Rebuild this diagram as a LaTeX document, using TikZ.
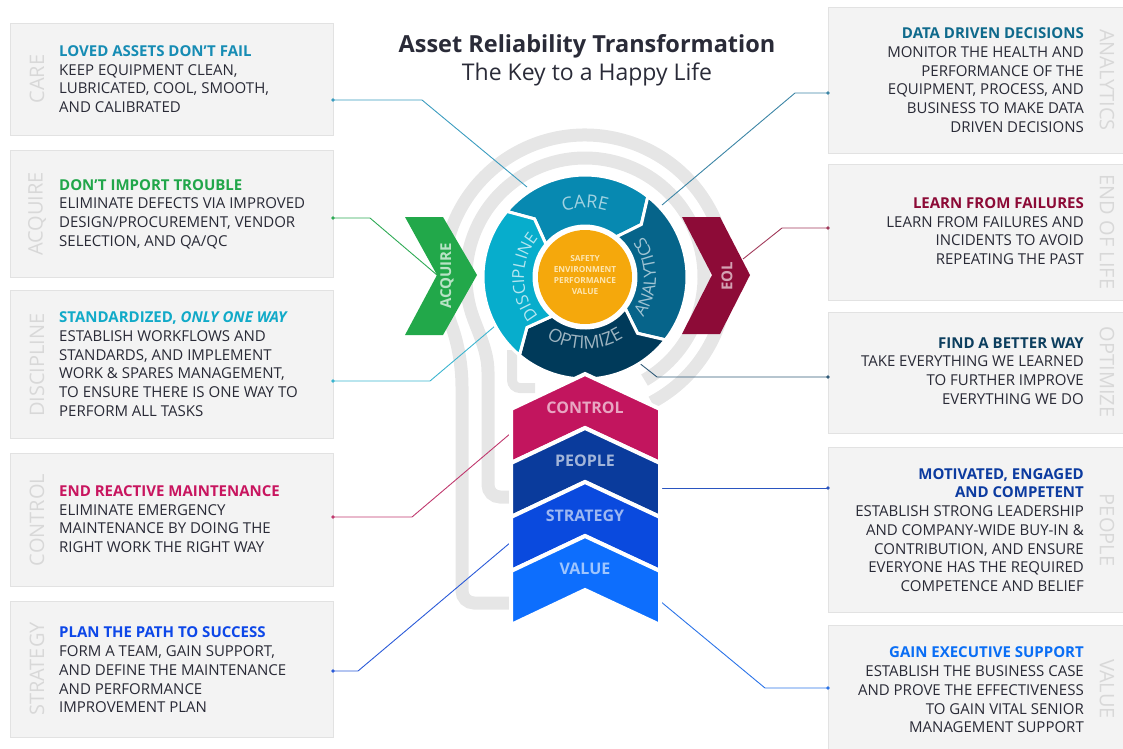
\documentclass[tikz,border=0pt]{standalone}
\usepackage{fontspec}
\setmainfont{Open Sans}
\usetikzlibrary{decorations.text}
\definecolor{bodytxt}{HTML}{292A36}
\definecolor{titletxt}{HTML}{2A2B38}
\definecolor{boxfill}{HTML}{F3F3F3}
\definecolor{boxline}{HTML}{E2E2E2}
\definecolor{vlab}{HTML}{D8D8D8}
\definecolor{ringgray}{HTML}{E6E6E6}
\definecolor{careH}{HTML}{168CB4}
\definecolor{acqH}{HTML}{21A64A}
\definecolor{discH}{HTML}{11AAC8}
\definecolor{ctrlH}{HTML}{C8155F}
\definecolor{stratH}{HTML}{0D47E8}
\definecolor{anaH}{HTML}{0F6A8C}
\definecolor{eolH}{HTML}{8C0A36}
\definecolor{optH}{HTML}{0C3E5E}
\definecolor{peopleH}{HTML}{0C3BA0}
\definecolor{valH}{HTML}{0A6EF5}
\definecolor{careS}{HTML}{0789B1}
\definecolor{anaS}{HTML}{06648A}
\definecolor{optS}{HTML}{003A5A}
\definecolor{discS}{HTML}{07ADCC}
\definecolor{coreC}{HTML}{F5A80C}
\definecolor{coreT}{HTML}{FDE6B0}
\definecolor{acqC}{HTML}{22A84A}
\definecolor{eolC}{HTML}{8D0B37}
\definecolor{ctrlC}{HTML}{C2155E}
\definecolor{peopleC}{HTML}{0A3B9C}
\definecolor{stratC}{HTML}{0A4ADE}
\definecolor{valC}{HTML}{0D6EFD}
\definecolor{careL}{HTML}{3A9CBF}
\definecolor{acqL}{HTML}{2EAA55}
\definecolor{discL}{HTML}{3AB4CF}
\definecolor{ctrlL}{HTML}{C0396E}
\definecolor{stratL}{HTML}{2A5AD8}
\definecolor{anaL}{HTML}{3D86A6}
\definecolor{eolL}{HTML}{A13A5A}
\definecolor{optL}{HTML}{2F5A78}
\definecolor{peopleL}{HTML}{2A55C0}
\definecolor{valL}{HTML}{2A73E8}
\tikzset{
  ring/.style={draw=ringgray, line width=13, line cap=butt},
  infobox/.style={fill=boxfill, draw=boxline, line width=0.8},
  ltext/.style={anchor=west, align=left, inner sep=0, text=bodytxt, font=\fontsize{15}{18.7}\selectfont},
  rtext/.style={anchor=east, align=right, inner sep=0, text=bodytxt, font=\fontsize{15}{18.7}\selectfont},
  vlabel/.style={inner sep=0, text=vlab, font=\fontsize{20}{20}\selectfont},
  conn/.style={line width=0.9},
  seg/.style={draw=white, line width=3, line join=miter},
  chev/.style={draw=white, line width=4, line join=miter},
  chevtxt/.style={inner sep=0, font=\fontsize{16}{16}\selectfont\bfseries},
  sidechev/.style={inner sep=0, font=\fontsize{15}{15}\selectfont\bfseries},
}
\newcommand{\hd}[2]{\textcolor{#1}{\bfseries #2}}
\begin{document}
\begin{tikzpicture}[x=1pt,y=1pt]
\useasboundingbox (0,0) rectangle (1123,-748);

% background bulb rings
\begin{scope}[shift={(585,-277)}]
  \draw[ring] (-62:142) arc[start angle=-62, end angle=200, radius=142]
     .. controls +(6.8,-18.8) and (-123,-90) .. (-123,-110) -- (-123,-314) arc[start angle=180, end angle=270, radius=12] -- (-65,-326);
  \draw[ring] (-60:119) arc[start angle=-60, end angle=200, radius=119]
     .. controls +(5.8,-16) and (-97,-75) .. (-97,-95) -- (-97,-208) arc[start angle=180, end angle=270, radius=12] -- (-65,-220);
  \draw[ring, line width=10] (-73,-73) -- (-73,-103) arc[start angle=180, end angle=270, radius=8] -- (-50,-111);
\end{scope}

% info boxes
\path[infobox] (10,-23) rectangle (333,-135);
\path[infobox] (10,-150) rectangle (333,-277);
\path[infobox] (10,-290) rectangle (333,-438);
\path[infobox] (10,-453) rectangle (333,-586);
\path[infobox] (10,-601) rectangle (333,-737);
\path[infobox] (828,-7) rectangle (1123,-153);
\path[infobox] (828,-164) rectangle (1123,-300);
\path[infobox] (828,-312) rectangle (1123,-433);
\path[infobox] (828,-447) rectangle (1123,-612);
\path[infobox] (828,-625) rectangle (1123,-749);

% connector coordinates
\coordinate (careA) at (333,-100);   \coordinate (careB) at (422,-100);   \coordinate (careZ) at (527,-187);
\coordinate (acqA) at (333,-218);    \coordinate (acqB) at (370,-218);    \coordinate (acqZ) at (437,-275);
\coordinate (discA) at (333,-381);   \coordinate (discB) at (430,-381);   \coordinate (discZ) at (495,-326);
\coordinate (ctrlA) at (333,-517);   \coordinate (ctrlB) at (412,-517);   \coordinate (ctrlZ) at (511,-433);
\coordinate (stratA) at (333,-671);  \coordinate (stratB) at (358,-671);  \coordinate (stratZ) at (511,-542);
\coordinate (anaA) at (828,-93);     \coordinate (anaB) at (795,-93);     \coordinate (anaZ) at (662,-205);
\coordinate (eolA) at (828,-228);    \coordinate (eolB) at (782,-228);    \coordinate (eolZ) at (743,-259);
\coordinate (optA) at (828,-377);    \coordinate (optB) at (657,-377);    \coordinate (optZ) at (638,-362);
\coordinate (peopleA) at (828,-488); \coordinate (peopleZ) at (660,-488);
\coordinate (valA) at (828,-688);    \coordinate (valB) at (765,-688);    \coordinate (valZ) at (660,-601);

\draw[conn, careL] (careA) -- (careB) -- (careZ);
\draw[conn, acqL] (acqA) -- (acqB) -- (acqZ);
\draw[conn, discL] (discA) -- (discB) -- (discZ);
\draw[conn, ctrlL] (ctrlA) -- (ctrlB) -- (ctrlZ);
\draw[conn, stratL] (stratA) -- (stratB) -- (stratZ);
\draw[conn, anaL] (anaA) -- (anaB) -- (anaZ);
\draw[conn, eolL] (eolA) -- (eolB) -- (eolZ);
\draw[conn, optL] (optA) -- (optB) -- (optZ);
\draw[conn, peopleL] (peopleA) -- (peopleZ);
\draw[conn, valL] (valA) -- (valB) -- (valZ);
\foreach \p/\c in {careA/careL, acqA/acqL, discA/discL, ctrlA/ctrlL, stratA/stratL, anaA/anaL, eolA/eolL, optA/optL, peopleA/peopleL, valA/valL}
  \fill[\c] (\p) circle (1.8);

% side chevrons
\fill[acqC] (405,-217) -- (443,-217) -- (477,-275) -- (443,-335) -- (405,-335) -- (437,-275) -- cycle;
\fill[eolC] (682,-217) -- (720,-217) -- (750,-275) -- (720,-334) -- (682,-334) -- (712,-275) -- cycle;
\node[sidechev, text=white!68!acqC, rotate=90] (acqT) at (447,-276) {ACQUIRE};
\node[sidechev, text=white!62!eolC, rotate=90] (eolT) at (727,-276) {EOL};

% wheel
\begin{scope}[shift={(585,-277)}]
  \filldraw[seg, fill=careS] (140:102) arc[start angle=140, end angle=52, radius=102] -- (43:77) -- (52:51) arc[start angle=52, end angle=140, radius=51] -- (131:77) -- cycle;
  \filldraw[seg, fill=anaS] (52:102) arc[start angle=52, end angle=-38, radius=102] -- (-47:77) -- (-38:51) arc[start angle=-38, end angle=52, radius=51] -- (43:77) -- cycle;
  \filldraw[seg, fill=optS] (-38:102) arc[start angle=-38, end angle=-130, radius=102] -- (-139:77) -- (-130:51) arc[start angle=-130, end angle=-38, radius=51] -- (-47:77) -- cycle;
  \filldraw[seg, fill=discS] (230:102) arc[start angle=230, end angle=140, radius=102] -- (131:77) -- (140:51) arc[start angle=140, end angle=230, radius=51] -- (221:77) -- cycle;
  \fill[coreC] (0,0) circle (47);
  \path[decorate, decoration={text along path, text align=center, text color=white!62!careS, text={|\fontsize{18}{18}\selectfont|CARE}}]
     (130:69) arc[start angle=130, end angle=50, radius=69];
  \path[decorate, decoration={text along path, text align=center, text color=white!62!anaS, text={|\fontsize{17}{17}\selectfont|ANALYTICS}}]
     (-55:71) arc[start angle=-55, end angle=55, radius=71];
  \path[decorate, decoration={text along path, text align=center, text color=white!62!optS, text={|\fontsize{18}{18}\selectfont|OPTIMIZE}}]
     (220:72) arc[start angle=220, end angle=320, radius=72];
  \path[decorate, decoration={text along path, text align=center, text color=white!70!discS, text={|\fontsize{16.5}{16.5}\selectfont|DISCIPLINE}}]
     (235:61) arc[start angle=235, end angle=125, radius=61];
  \node[align=center, inner sep=0, text=coreT, font=\fontsize{8.3}{11}\selectfont\bfseries] (core) at (0,1.5) {SAFETY\\ENVIRONMENT\\PERFORMANCE\\VALUE};
\end{scope}

% stacked chevrons
\filldraw[chev, fill=ctrlC] (585,-374) -- (660,-409) -- (660,-463) -- (585,-428) -- (511,-463) -- (511,-409) -- cycle;
\filldraw[chev, fill=peopleC] (585,-428) -- (660,-463) -- (660,-517) -- (585,-482) -- (511,-517) -- (511,-463) -- cycle;
\filldraw[chev, fill=stratC] (585,-482) -- (660,-517) -- (660,-571) -- (585,-536) -- (511,-571) -- (511,-517) -- cycle;
\filldraw[chev, fill=valC] (585,-536) -- (660,-571) -- (660,-625) -- (585,-590) -- (511,-625) -- (511,-571) -- cycle;
\node[chevtxt, text=white!62!ctrlC] (ctrlT) at (585,-408) {CONTROL};
\node[chevtxt, text=white!62!peopleC] (peopleT) at (585,-461) {PEOPLE};
\node[chevtxt, text=white!60!stratC] (stratT) at (585,-516) {STRATEGY};
\node[chevtxt, text=white!60!valC] (valT) at (585,-569) {VALUE};

% title
\node[anchor=base, inner sep=0, text=titletxt, font=\fontsize{23.5}{28}\selectfont\bfseries] (title) at (587,-52) {Asset Reliability Transformation};
\node[anchor=base, inner sep=0, text=titletxt, font=\fontsize{23}{28}\selectfont] (subtitle) at (587,-80) {The Key to a Happy Life};

% left box texts
\node[vlabel, rotate=90] (l1v) at (37,-79) {CARE};
\node[ltext] (l1) at (59,-79) {\hd{careH}{LOVED ASSETS DON’T FAIL}\\KEEP EQUIPMENT CLEAN,\\LUBRICATED, COOL, SMOOTH,\\AND CALIBRATED};
\node[vlabel, rotate=90] (l2v) at (37,-214) {ACQUIRE};
\node[ltext] (l2) at (59,-214) {\hd{acqH}{DON’T IMPORT TROUBLE}\\ELIMINATE DEFECTS VIA IMPROVED\\DESIGN/PROCUREMENT, VENDOR\\SELECTION, AND QA/QC};
\node[vlabel, rotate=90] (l3v) at (37,-365) {DISCIPLINE};
\node[ltext] (l3) at (59,-364) {\hd{discH}{STANDARDIZED, \itshape ONLY ONE WAY}\\ESTABLISH WORKFLOWS AND\\STANDARDS, AND IMPLEMENT\\WORK \& SPARES MANAGEMENT,\\TO ENSURE THERE IS ONE WAY TO\\PERFORM ALL TASKS};
\node[vlabel, rotate=90] (l4v) at (37,-520) {CONTROL};
\node[ltext] (l4) at (59,-519) {\hd{ctrlH}{END REACTIVE MAINTENANCE}\\ELIMINATE EMERGENCY\\MAINTENANCE BY DOING THE\\RIGHT WORK THE RIGHT WAY};
\node[vlabel, rotate=90] (l5v) at (37,-669) {STRATEGY};
\node[ltext] (l5) at (59,-670) {\hd{stratH}{PLAN THE PATH TO SUCCESS}\\FORM A TEAM, GAIN SUPPORT,\\AND DEFINE THE MAINTENANCE\\AND PERFORMANCE\\IMPROVEMENT PLAN};

% right box texts
\node[vlabel, rotate=-90] (r1v) at (1107,-80) {ANALYTICS};
\node[rtext] (r1) at (1084,-80) {\hd{anaH}{DATA DRIVEN DECISIONS}\\MONITOR THE HEALTH AND\\PERFORMANCE OF THE\\EQUIPMENT, PROCESS, AND\\BUSINESS TO MAKE DATA\\DRIVEN DECISIONS};
\node[vlabel, rotate=-90] (r2v) at (1107,-232) {END OF LIFE};
\node[rtext] (r2) at (1084,-231) {\hd{eolH}{LEARN FROM FAILURES}\\LEARN FROM FAILURES AND\\INCIDENTS TO AVOID\\REPEATING THE PAST};
\node[vlabel, rotate=-90] (r3v) at (1107,-372) {OPTIMIZE};
\node[rtext] (r3) at (1084,-371) {\hd{optH}{FIND A BETTER WAY}\\TAKE EVERYTHING WE LEARNED\\TO FURTHER IMPROVE\\EVERYTHING WE DO};
\node[vlabel, rotate=-90] (r4v) at (1107,-530) {PEOPLE};
\node[rtext] (r4) at (1084,-530) {\hd{peopleH}{MOTIVATED, ENGAGED}\\\hd{peopleH}{AND COMPETENT}\\ESTABLISH STRONG LEADERSHIP\\AND COMPANY-WIDE BUY-IN \&\\CONTRIBUTION, AND ENSURE\\EVERYONE HAS THE REQUIRED\\COMPETENCE AND BELIEF};
\node[vlabel, rotate=-90] (r5v) at (1107,-689) {VALUE};
\node[rtext] (r5) at (1084,-690) {\hd{valH}{GAIN EXECUTIVE SUPPORT}\\ESTABLISH THE BUSINESS CASE\\AND PROVE THE EFFECTIVENESS\\TO GAIN VITAL SENIOR\\MANAGEMENT SUPPORT};
\end{tikzpicture}
\end{document}
